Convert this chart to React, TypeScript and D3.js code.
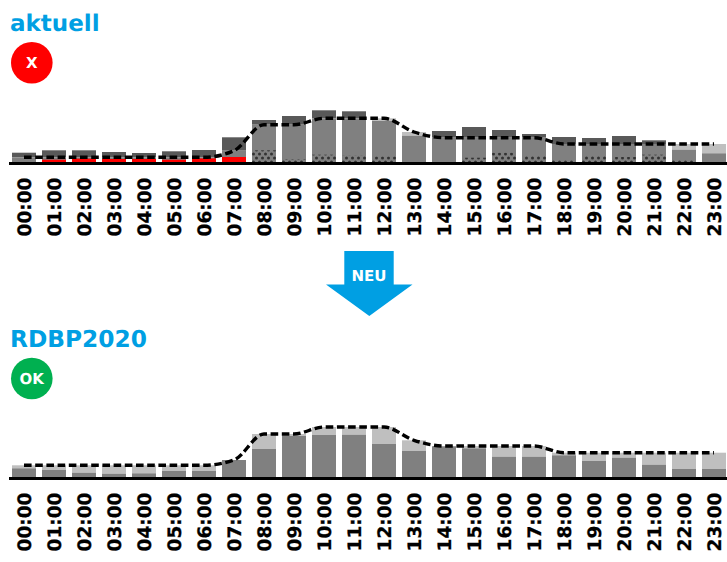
import React from "react";
import * as d3 from "d3";

const hours = ["00:00","01:00","02:00","03:00","04:00","05:00","06:00","07:00","08:00","09:00","10:00","11:00","12:00","13:00","14:00","15:00","16:00","17:00","18:00","19:00","20:00","21:00","22:00","23:00"];

const currentTotal = [9.3,11.7,11.7,10,9,10.7,12,24.7,42,46,51.7,50.7,41,26.3,31,35,32,28,25,24,26,21.7,12.3,8.7];
const currentLimit = [4.7,4.7,4.7,4.7,4.7,4.7,4.7,11.3,37.3,37.3,43.7,43.7,43.7,30,24.3,24.3,24.3,24.3,18,18,18,18,18,18];
const currentDotted = [0,0,0,0,0,0,0,0,11.7,3,7.3,6.3,5.7,0,0,4.3,9.3,6,2,6,5,7.3,2,0];
const currentRed = [0,2.3,3.3,3,3,2.3,3.6,5,0,0,0,0,0,0,0,0,0,0,0,0,0,0,0,0];

const newTotal = [8.7,7,4.3,3.3,3.7,6,6,17,28,41,42,42.3,33,26,30.7,28.7,20.3,20.3,21.7,16,19.3,12.3,8,8];
const newLimit = [11.7,11.7,11.7,11.7,11.7,11.7,11.7,17,43,43,50,50,50,36.7,31,31,31,31,24.3,24.3,24.3,24.3,24.3,24.3];
const noValues = hours.map(() => 0);

const DARK = "#595959", MID = "#808080", LIGHT = "#bfbfbf", BLUE = "#009fe3";
const FONT = "'DejaVu Sans', sans-serif";
const crisp = { textRendering: "geometricPrecision" } as React.CSSProperties;

const x = d3.scaleBand<string>().domain(hours).range([9, 729]).paddingInner(0.2).paddingOuter(0.1);
const xc = (h: string) => (x(h) as number) + x.bandwidth() / 2;

function Panel({ base, total, limit, dotted, red }: { base: number; total: number[]; limit: number[]; dotted: number[]; red: number[] }) {
  const y = d3.scaleLinear().domain([0, 60]).range([base, base - 60]);
  const line = d3.line<number>().x((_, i) => xc(hours[i])).y((d) => y(d)).curve(d3.curveMonotoneX);
  const rect = (h: string, a: number, b: number, fill: string, key: string) => (
    <rect key={key} x={x(h)} width={x.bandwidth()} y={y(Math.max(a, b))} height={Math.abs(y(a) - y(b))} fill={fill} />
  );
  return (
    <g>
      {hours.map((h, i) => {
        const t = total[i], l = limit[i];
        return (
          <g key={h}>
            {t > l ? rect(h, l, t, DARK, "over") : rect(h, t, l, LIGHT, "free")}
            {rect(h, 0, Math.min(t, l), MID, "base")}
            {dotted[i] > 0 && rect(h, 0, dotted[i], "url(#dots)", "dots")}
            {red[i] > 0 && rect(h, 0, red[i], "#ff0000", "red")}
          </g>
        );
      })}
      <line x1={9} x2={727} y1={base + 1.5} y2={base + 1.5} stroke="#000" strokeWidth={3} />
      <path d={line(limit) as string} fill="none" stroke="#000" strokeWidth={3.4} strokeDasharray="7.6 3.6" />
      {hours.map((h) => (
        <text key={h} style={crisp} transform={`translate(${xc(h) + 6.8},${base + 15.5}) rotate(-90)`} textAnchor="end" fontFamily={FONT} fontWeight={700} fontSize={18.5} fill="#000" stroke="#000" strokeWidth={0.25}>{h}</text>
      ))}
    </g>
  );
}

export default function App() {
  return (
    <svg width={727} height={562} viewBox="0 0 727 562" style={{ position: "absolute", left: 0, top: 0, background: "#fff" }}>
      <defs>
        <pattern id="dots" width={6} height={8} patternUnits="userSpaceOnUse">
          <rect width={6} height={8} fill={MID} />
          <circle cx={1.5} cy={2} r={1.5} fill="#333333" />
          <circle cx={4.5} cy={6} r={1.5} fill="#333333" />
        </pattern>
      </defs>
      <text x={10} y={31} style={crisp} fontFamily={FONT} fontWeight={700} fontSize={23} fill={BLUE}>aktuell</text>
      <circle cx={31.8} cy={62.7} r={20.8} fill="#ff0000" />
      <text x={31.8} y={68} style={crisp} textAnchor="middle" fontFamily={FONT} fontWeight={700} fontSize={15} fill="#fff">X</text>
      <Panel base={162} total={currentTotal} limit={currentLimit} dotted={currentDotted} red={currentRed} />

      <polygon points="344.3,251 393.7,251 393.7,284.5 412.5,284.5 369.3,316 326,284.5 344.3,284.5" fill={BLUE} />
      <text x={369} y={281} style={crisp} textAnchor="middle" fontFamily={FONT} fontWeight={700} fontSize={15} fill="#fff">NEU</text>

      <text x={10} y={347} style={crisp} fontFamily={FONT} fontWeight={700} fontSize={23.3} fill={BLUE}>RDBP2020</text>
      <circle cx={31.8} cy={378.5} r={20.8} fill="#00b050" />
      <text x={31.8} y={384} style={crisp} textAnchor="middle" fontFamily={FONT} fontWeight={700} fontSize={15} fill="#fff">OK</text>
      <Panel base={477} total={newTotal} limit={newLimit} dotted={noValues} red={noValues} />
    </svg>
  );
}
